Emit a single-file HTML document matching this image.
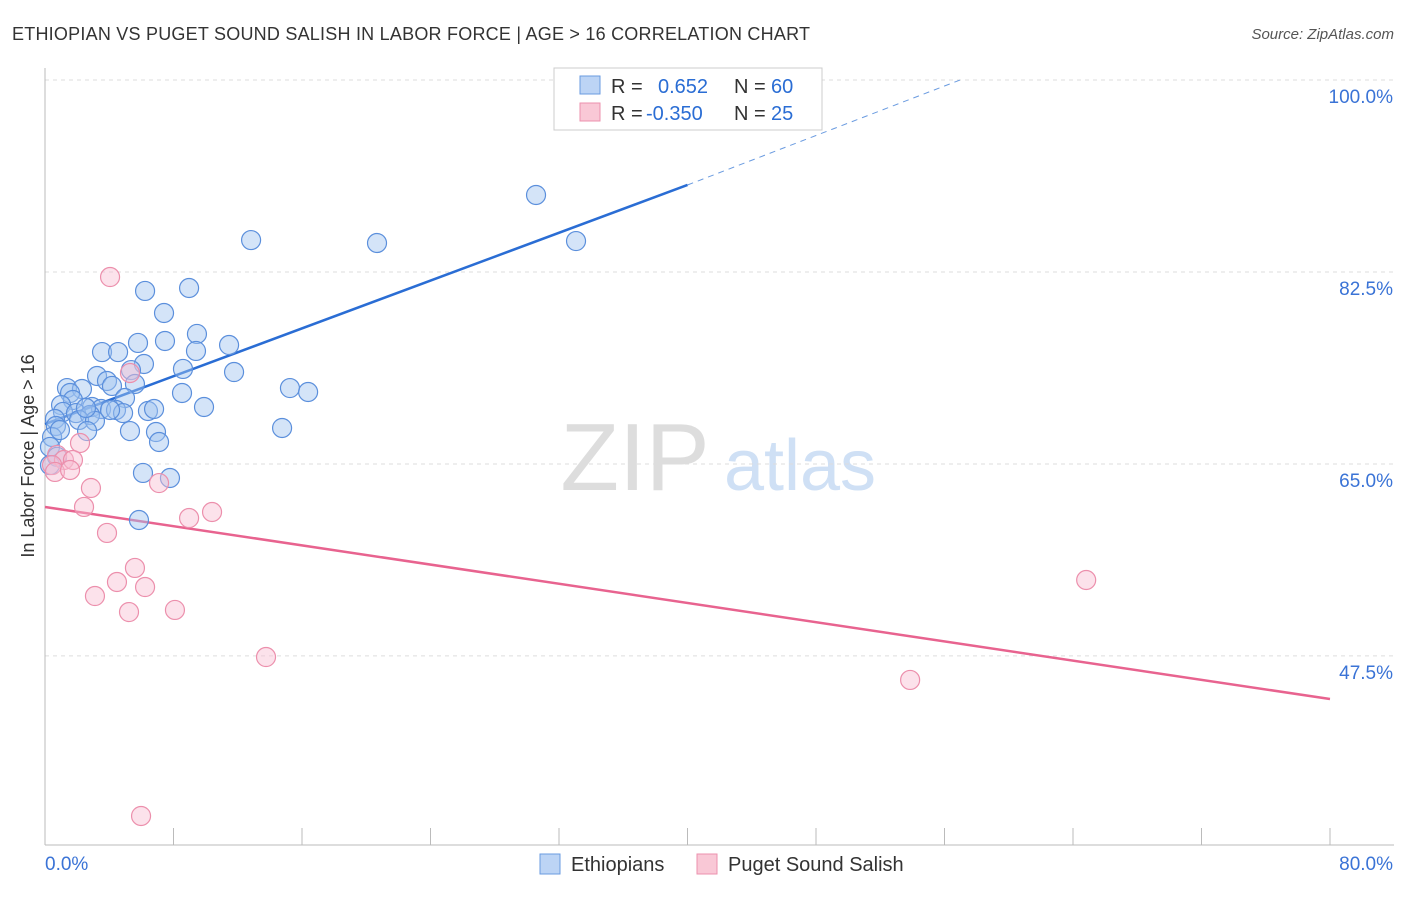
<!DOCTYPE html>
<html><head><meta charset="utf-8"><style>
body{margin:0;background:#fff;font-family:"Liberation Sans",sans-serif;}
svg text{font-family:"Liberation Sans",sans-serif;}
</style></head><body>
<svg id="c" width="1406" height="892" xmlns="http://www.w3.org/2000/svg">
<text x="12" y="40" font-size="18" fill="#333" textLength="798">ETHIOPIAN VS PUGET SOUND SALISH IN LABOR FORCE | AGE &gt; 16 CORRELATION CHART</text>
<text x="1394" y="39" font-size="15" fill="#555" font-style="italic" text-anchor="end">Source: ZipAtlas.com</text>
<text x="0" y="0" font-size="18" fill="#333" text-anchor="middle" transform="translate(34,456) rotate(-90)">In Labor Force | Age &gt; 16</text>
<g><text x="635" y="490" font-size="96" fill="#ddd" font-family="Liberation Serif" text-anchor="middle">ZIP</text><text x="800" y="490" font-size="72" fill="#cfe0f5" text-anchor="middle">atlas</text></g>
<g id="grid"></g><g id="axes"></g><g id="lines"></g><g id="pts"></g>
<g>
<rect x="554" y="68" width="268" height="62" fill="#fff" stroke="#ccc"/>
<rect x="580" y="76" width="20" height="18" fill="#bcd4f5" stroke="#6a9be0"/>
<rect x="580" y="103" width="20" height="18" fill="#f9c8d6" stroke="#ec91ae"/>
<text x="611" y="93" font-size="20" fill="#333">R =</text><text x="658" y="93" font-size="20" fill="#2a6dd4">0.652</text>
<text x="734" y="93" font-size="20" fill="#333">N =</text><text x="771" y="93" font-size="20" fill="#2a6dd4">60</text>
<text x="611" y="120" font-size="20" fill="#333">R =</text><text x="646" y="120" font-size="20" fill="#2a6dd4">-0.350</text>
<text x="734" y="120" font-size="20" fill="#333">N =</text><text x="771" y="120" font-size="20" fill="#2a6dd4">25</text>
</g>
<g>
<rect x="540" y="854" width="20" height="20" fill="#bcd4f5" stroke="#6a9be0"/>
<text x="571" y="871" font-size="20" fill="#333">Ethiopians</text>
<rect x="697" y="854" width="20" height="20" fill="#f9c8d6" stroke="#ec91ae"/>
<text x="728" y="871" font-size="20" fill="#333">Puget Sound Salish</text>
</g>
</svg>
<script>
const yTicks=[100,82.5,65,47.5];
const yTickLabels=["100.0%","82.5%","65.0%","47.5%"];
const xTickVals=[0,8,16,24,32,40,48,56,64,72,80];
const blueX=[30.57,12.83,20.67,33.06,6.23,8.97,7.41,9.46,5.79,7.47,11.46,3.55,4.55,9.40,6.16,5.35,8.59,11.77,3.24,3.86,4.17,5.60,1.37,2.30,1.56,15.25,16.38,8.53,4.98,1.74,1.00,2.93,3.49,4.42,6.41,6.79,9.90,1.12,1.93,4.86,2.80,2.12,3.11,0.62,0.68,2.62,5.29,6.91,14.76,7.10,0.44,0.31,0.75,6.10,7.78,5.85,0.31,4.05,2.55,0.93];
const blueY=[89.52,85.41,85.14,85.32,80.77,81.04,78.76,76.85,76.03,76.21,75.84,75.20,75.20,75.30,74.11,73.56,73.66,73.38,73.02,72.56,72.11,72.29,71.92,71.83,71.47,71.92,71.56,71.47,71.01,70.83,70.37,70.19,70.01,69.92,69.83,70.01,70.19,69.74,69.64,69.64,69.46,69.01,68.92,69.10,68.46,68.00,68.00,67.91,68.28,67.00,67.46,66.55,65.65,64.18,63.72,59.89,64.90,69.92,70.10,68.09];
const pinkX=[4.05,5.29,2.18,0.75,1.18,1.74,0.44,0.62,1.56,2.86,7.10,2.43,3.86,8.97,10.40,5.60,3.11,4.48,6.23,5.23,8.09,13.76,64.82,53.86,5.98];
const pinkY=[82.04,73.29,66.91,65.82,65.36,65.36,64.90,64.27,64.45,62.81,63.26,61.08,58.71,60.07,60.62,55.52,52.96,54.24,53.78,51.50,51.69,47.40,54.42,45.31,32.91];
const blueTrend=[[0,68.64],[40,90.43]];
const blueTrendExt=[[40,90.43],[56.97,100]];
const pinkTrend=[[0,61.08],[80,43.57]];
const X0=45,X1=1330,xMax=80,Ytop=80,pxPerY=10.97,Ybot=845;
const sx=v=>X0+(v/xMax)*(X1-X0);
const sy=v=>Ytop+(100-v)*pxPerY;
const NS="http://www.w3.org/2000/svg";
function mk(tag,attrs,parent){const e=document.createElementNS(NS,tag);for(const k in attrs)e.setAttribute(k,attrs[k]);document.getElementById(parent).appendChild(e);return e;}
yTicks.forEach((t,i)=>{
 const g=mk('line',{x1:X0,x2:1394,y1:sy(t),y2:sy(t),stroke:'#ddd','stroke-dasharray':'4,4'},'grid');
 
 
 const l=mk('text',{x:1393,y:sy(t)+23,'font-size':19,fill:'#3a73d6','text-anchor':'end'},'grid');
 l.textContent=yTickLabels[i];
 
 
});
const ax=mk('line',{x1:X0,x2:X0,y1:68,y2:Ybot,stroke:'#bbb'},'axes');


const bx=mk('line',{x1:X0,x2:1394,y1:Ybot,y2:Ybot,stroke:'#bbb'},'axes');


xTickVals.forEach(t=>{
 const tk=mk('line',{x1:sx(t),x2:sx(t),y1:828,y2:Ybot,stroke:'#bbb'},'axes');
 
 
});
const xl0=mk('text',{x:45,y:870,'font-size':19,fill:'#3a73d6'},'axes');xl0.textContent='0.0%';


const xl1=mk('text',{x:1393,y:870,'font-size':19,fill:'#3a73d6','text-anchor':'end'},'axes');xl1.textContent='80.0%';


function dots(xs,ys,fill,stroke,name){xs.forEach((x,i)=>{const c=mk('circle',{cx:sx(x),cy:sy(ys[i]),r:9.5,fill:fill,stroke:stroke,'stroke-width':1.2},'pts');
 
 });}
dots(blueX,blueY,'rgba(160,195,240,0.45)','#5b8fdc','ethiopian-point');
dots(pinkX,pinkY,'rgba(248,190,210,0.45)','#ec8fac','puget-sound-salish-point');
const bl=mk('line',{x1:sx(blueTrend[0][0]),y1:sy(blueTrend[0][1]),x2:sx(blueTrend[1][0]),y2:sy(blueTrend[1][1]),stroke:'#2a6dd4','stroke-width':2.5},'lines');


const be=mk('line',{x1:sx(blueTrendExt[0][0]),y1:sy(blueTrendExt[0][1]),x2:sx(blueTrendExt[1][0]),y2:sy(blueTrendExt[1][1]),stroke:'#6a9be0','stroke-width':1,'stroke-dasharray':'6,5'},'lines');


const pl=mk('line',{x1:sx(pinkTrend[0][0]),y1:sy(pinkTrend[0][1]),x2:sx(pinkTrend[1][0]),y2:sy(pinkTrend[1][1]),stroke:'#e8638f','stroke-width':2.5},'lines');


</script>
</body></html>
